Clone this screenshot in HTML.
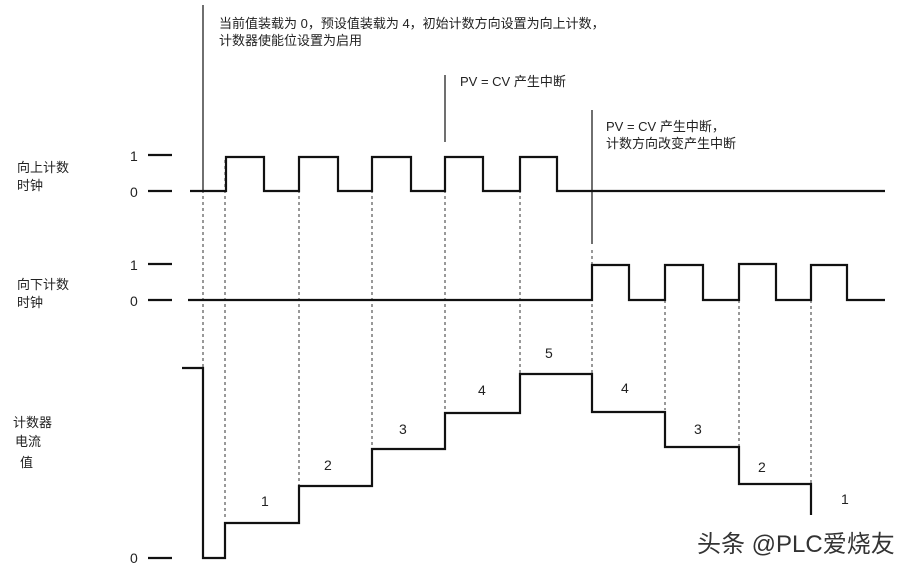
<!DOCTYPE html>
<html><head><meta charset="utf-8"><style>
html,body{margin:0;padding:0;background:#fff;}
svg{display:block;}
text{font-family:"Liberation Sans","Noto Sans CJK SC",sans-serif;fill:#222;}
.cn{font-family:"Liberation Serif","Noto Serif CJK SC",serif;}
</style></head><body>
<svg width="908" height="570" viewBox="0 0 908 570" xmlns="http://www.w3.org/2000/svg">
<g stroke="#333" stroke-width="1" stroke-dasharray="3,3" fill="none">
<line x1="203" y1="160" x2="203" y2="540"/>
<line x1="225" y1="160" x2="225" y2="520"/>
<line x1="299" y1="160" x2="299" y2="485"/>
<line x1="372" y1="160" x2="372" y2="448"/>
<line x1="445" y1="160" x2="445" y2="412"/>
<line x1="520" y1="160" x2="520" y2="373"/>
<line x1="592" y1="250" x2="592" y2="373"/>
<line x1="665" y1="300" x2="665" y2="410"/>
<line x1="739" y1="300" x2="739" y2="446"/>
<line x1="811" y1="300" x2="811" y2="483"/>
</g>
<g stroke="#222" stroke-width="1.3">
<line x1="203" y1="5" x2="203" y2="192"/>
<line x1="445" y1="75" x2="445" y2="142"/>
<line x1="592" y1="110" x2="592" y2="244"/>
</g>
<g stroke="#111" stroke-width="2.2" fill="none">
<line x1="148" y1="155" x2="172" y2="155"/>
<line x1="148" y1="191" x2="172" y2="191"/>
<line x1="148" y1="264" x2="172" y2="264"/>
<line x1="148" y1="300" x2="172" y2="300"/>
<line x1="148" y1="558" x2="172" y2="558"/>
<polyline points="190,191 226,191 226,157 264,157 264,191 299,191 299,157 338,157 338,191 372,191 372,157 411,157 411,191 445,191 445,157 483,157 483,191 520,191 520,157 557,157 557,191 885,191"/>
<polyline points="188,300 592,300 592,265 629,265 629,300 665,300 665,265 703,265 703,300 739,300 739,264 776,264 776,300 811,300 811,265 847,265 847,300 885,300"/>
<polyline points="182,368 203,368 203,558 225,558 225,523 299,523 299,486 372,486 372,449 445,449 445,413 520,413 520,374 592,374 592,412 665,412 665,447 739,447 739,484 811,484 811,515"/>
</g>
<g font-size="14">
<text x="130" y="161">1</text>
<text x="130" y="197">0</text>
<text x="130" y="270">1</text>
<text x="130" y="306">0</text>
<text x="130" y="563">0</text>
<text x="261" y="506">1</text>
<text x="324" y="470">2</text>
<text x="399" y="434">3</text>
<text x="478" y="395">4</text>
<text x="545" y="358">5</text>
<text x="621" y="393">4</text>
<text x="694" y="434">3</text>
<text x="758" y="472">2</text>
<text x="841" y="504">1</text>
</g>
<g class="cn" font-size="13">
<text x="17" y="172">向上计数</text>
<text x="17" y="190">时钟</text>
<text x="17" y="289">向下计数</text>
<text x="17" y="307">时钟</text>
<text x="13" y="427">计数器</text>
<text x="15" y="446">电流</text>
<text x="20" y="467">值</text>
<text x="219" y="28">当前值装载为 0，预设值装载为 4，初始计数方向设置为向上计数，</text>
<text x="219" y="45">计数器使能位设置为启用</text>
<text x="460" y="86">PV = CV 产生中断</text>
<text x="606" y="131">PV = CV 产生中断，</text>
<text x="606" y="148">计数方向改变产生中断</text>
</g>
<text x="697" y="552" font-size="24" style="font-family:'Liberation Sans','Noto Sans CJK SC',sans-serif;fill:#333">头条 @PLC爱烧友</text>
</svg>
</body></html>
